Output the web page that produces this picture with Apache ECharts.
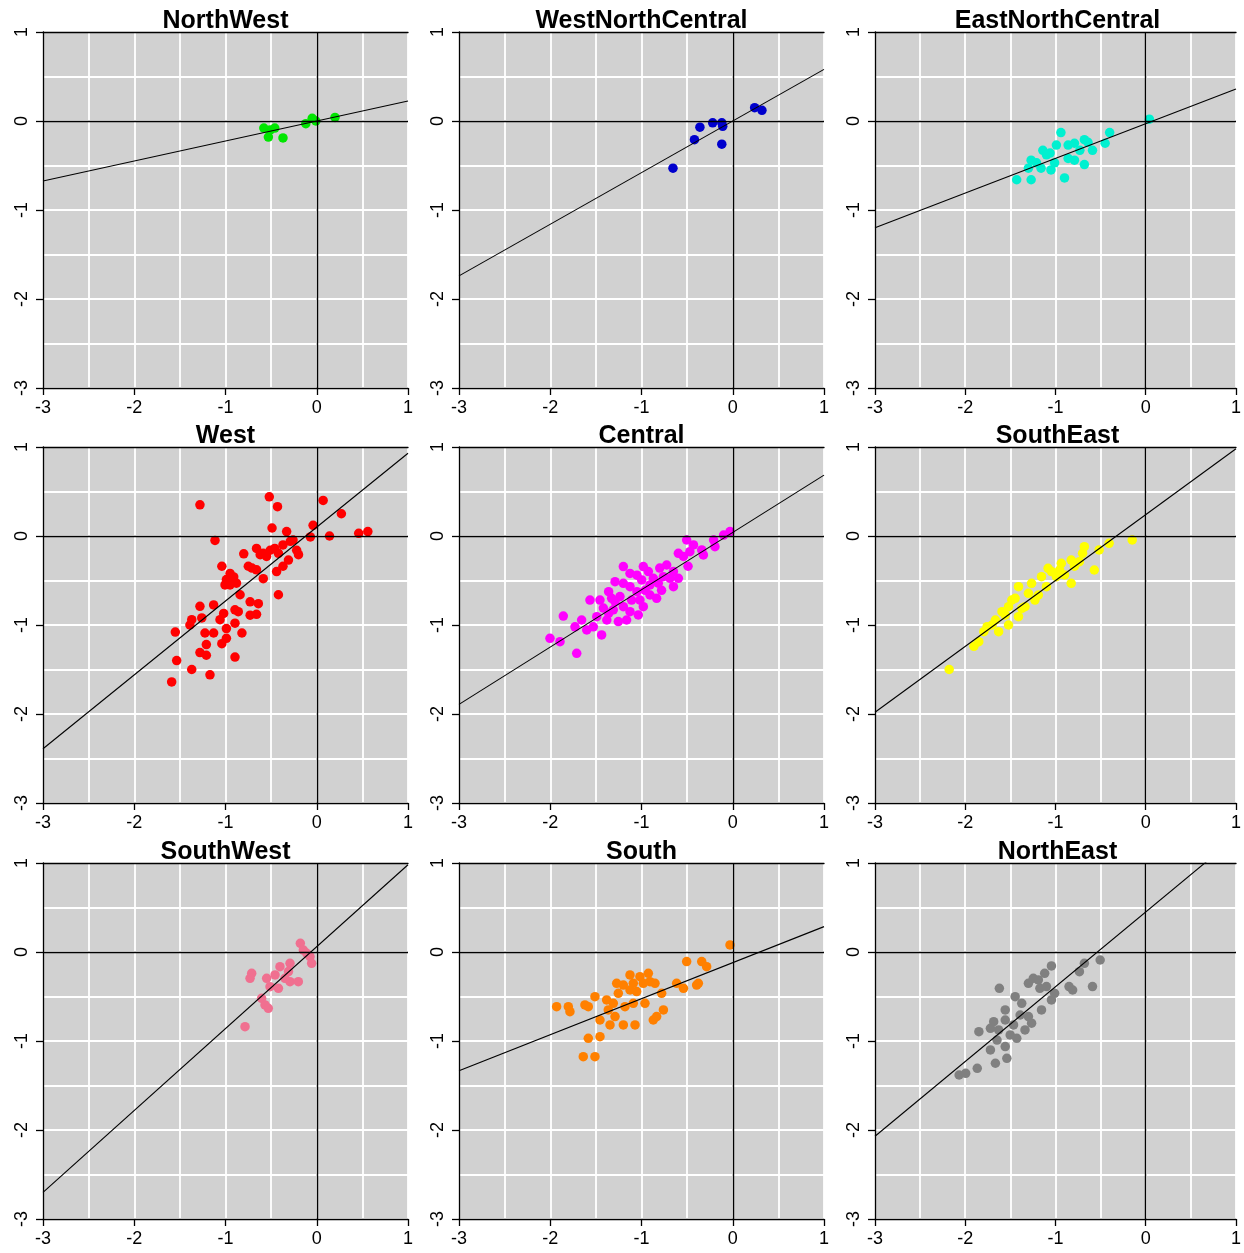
<!DOCTYPE html>
<html>
<head>
<meta charset="utf-8">
<script src="https://cdn.jsdelivr.net/npm/echarts@6/dist/echarts.min.js"></script>
<style>
html,body{margin:0;padding:0;background:#fff;}
#chart{width:1244px;height:1253px;}
</style>
</head>
<body>
<div id="chart"></div>
<script>
// ---------- DATA ----------
const regions = ['NorthWest','WestNorthCentral','EastNorthCentral','West','Central','SouthEast','SouthWest','South','NorthEast'];
const pointColors = ['#00e600','#0000cd','#00f0d0','#ff0000','#ff00ff','#ffff00','#f07090','#ff8000','#808080'];
const slopes = [0.225, 0.58, 0.39, 0.83, 0.644, 0.74, 0.92, 0.405, 0.84];
const intercepts = [0.0, 0.0, -0.03, 0.10, 0.04, 0.24, 0.06, -0.12, 0.45];
const axisTicks = [-3,-2,-1,0,1];

const northWest = [[-0.58,-0.08],[-0.51,-0.10],[-0.37,-0.19],[-0.53,-0.18],[-0.46,-0.08],[-0.12,-0.03],[-0.05,0.03],[-0.01,0.0],[0.20,0.04]];
const westNorthCentral = [[-0.655,-0.53],[-0.42,-0.21],[-0.36,-0.07],[-0.22,-0.02],[-0.12,-0.02],[-0.11,-0.06],[-0.12,-0.26],[0.24,0.15],[0.32,0.12]];
const eastNorthCentral = [[-1.43,-0.66],[-1.27,-0.66],[-1.27,-0.44],[-1.21,-0.47],[-1.16,-0.53],[-1.10,-0.38],[-1.06,-0.36],[-1.05,-0.55],[-1.01,-0.47],[-0.99,-0.27],[-0.94,-0.13],[-0.90,-0.64],[-0.86,-0.27],[-0.86,-0.42],[-0.79,-0.25],[-0.79,-0.44],[-0.68,-0.21],[-0.68,-0.49],[-0.64,-0.24],[-0.45,-0.25],[-0.40,-0.13],[0.04,0.02],[-1.30,-0.53],[-1.14,-0.33],[-0.59,-0.33],[-0.73,-0.33]];
const west = [[-1.28,0.35],[-0.52,0.44],[-0.43,0.33],[0.07,0.40],[0.27,0.25],[-0.04,0.12],[-0.07,-0.01],[0.14,0.0],[0.46,0.03],[0.56,0.05],[-0.49,0.09],[-0.33,0.05],[-1.115,-0.05],[-0.80,-0.20],[-0.66,-0.14],[-0.586,-0.195],[-0.51,-0.16],[-0.42,-0.195],[-0.37,-0.10],[-0.26,-0.045],[-0.22,-0.16],[-0.20,-0.21],[-0.31,-0.27],[-0.37,-0.34],[-0.44,-0.40],[-0.586,-0.48],[-0.66,-0.38],[-0.75,-0.34],[-1.04,-0.34],[-0.99,-0.49],[-0.95,-0.55],[-0.91,-0.46],[-1.005,-0.55],[-0.84,-0.66],[-0.42,-0.66],[-1.28,-0.79],[-1.13,-0.775],[-1.02,-0.87],[-0.896,-0.83],[-0.86,-0.85],[-0.73,-0.74],[-0.64,-0.76],[-0.73,-0.89],[-0.66,-0.88],[-1.37,-0.94],[-1.26,-0.92],[-1.39,-1.00],[-1.06,-0.94],[-0.99,-1.04],[-0.896,-0.98],[-1.55,-1.08],[-1.225,-1.09],[-1.13,-1.09],[-0.82,-1.09],[-1.21,-1.22],[-1.04,-1.21],[-0.99,-1.15],[-1.28,-1.31],[-1.21,-1.34],[-0.896,-1.36],[-1.535,-1.40],[-1.37,-1.50],[-1.17,-1.56],[-1.59,-1.64],[-0.62,-0.21],[-0.55,-0.23],[-0.46,-0.14],[-0.29,-0.06],[-0.71,-0.36],[-0.95,-0.42],[-0.88,-0.53]];
const central = [[-0.03,0.05],[-0.10,0.01],[-0.21,-0.045],[-0.195,-0.12],[-0.34,-0.157],[-0.505,-0.045],[-0.43,-0.10],[-0.47,-0.176],[-0.596,-0.195],[-0.54,-0.23],[-0.49,-0.34],[-0.65,-0.40],[-0.80,-0.36],[-0.724,-0.326],[-0.688,-0.475],[-0.65,-0.57],[-0.816,-0.53],[-0.78,-0.61],[-0.98,-0.344],[-0.925,-0.40],[-1.05,-0.44],[-1.126,-0.42],[-0.998,-0.494],[-0.907,-0.55],[-0.96,-0.61],[-1.199,-0.344],[-1.29,-0.513],[-1.199,-0.532],[-1.126,-0.57],[-1.05,-0.625],[-1.017,-0.72],[-0.907,-0.663],[-0.834,-0.70],[-1.108,-0.72],[-1.236,-0.68],[-1.36,-0.625],[-1.327,-0.70],[-1.455,-0.72],[-1.565,-0.72],[-1.418,-0.81],[-1.309,-0.83],[-1.199,-0.794],[-1.126,-0.85],[-1.49,-0.906],[-1.38,-0.944],[-1.528,-1.02],[-1.60,-1.056],[-1.437,-1.112],[-1.656,-0.944],[-1.729,-1.02],[-1.857,-0.90],[-1.893,-1.187],[-2.003,-1.15],[-1.71,-1.318],[-1.254,-0.962],[-1.163,-0.944],[-1.29,-0.738],[-0.98,-0.794],[-1.035,-0.887],[-1.36,-0.869],[-0.87,-0.475],[-0.76,-0.457],[-0.596,-0.475],[-0.322,-0.213]];
const southEast = [[-0.15,-0.045],[-0.406,-0.082],[-0.516,-0.157],[-0.68,-0.12],[-0.70,-0.195],[-0.57,-0.382],[-0.826,-0.27],[-0.79,-0.34],[-0.936,-0.307],[-1.082,-0.363],[-0.99,-0.457],[-0.826,-0.532],[-1.155,-0.457],[-1.10,-0.569],[-1.265,-0.532],[-1.19,-0.663],[-1.30,-0.644],[-1.41,-0.569],[-1.447,-0.70],[-1.338,-0.794],[-1.52,-0.794],[-1.557,-0.888],[-1.41,-0.906],[-1.666,-0.944],[-1.758,-1.019],[-1.63,-1.075],[-1.85,-1.187],[-1.904,-1.24],[-2.178,-1.50],[-1.484,-0.72],[-1.374,-0.813],[-1.228,-0.72],[-1.045,-0.40],[-0.954,-0.382],[-0.90,-0.438],[-1.593,-0.85],[-1.703,-1.0],[-1.52,-1.0],[-1.794,-1.075],[-0.735,-0.288]];
const southWest = [[-0.18,0.097],[-0.147,0.022],[-0.074,-0.052],[-0.056,-0.127],[-0.11,-0.015],[-0.293,-0.127],[-0.31,-0.22],[-0.403,-0.165],[-0.457,-0.258],[-0.549,-0.296],[-0.512,-0.39],[-0.42,-0.408],[-0.293,-0.333],[-0.202,-0.333],[-0.713,-0.24],[-0.731,-0.296],[-0.604,-0.52],[-0.567,-0.595],[-0.531,-0.633],[-0.786,-0.839],[-0.348,-0.296]];
const south = [[-0.03,0.079],[-0.505,-0.108],[-0.34,-0.108],[-0.286,-0.165],[-0.615,-0.352],[-0.54,-0.408],[-0.396,-0.371],[-0.779,-0.464],[-0.76,-0.651],[-0.871,-0.764],[-1.017,-0.277],[-0.98,-0.352],[-0.907,-0.333],[-0.852,-0.352],[-1.126,-0.258],[-1.126,-0.427],[-1.199,-0.371],[-1.272,-0.352],[-1.254,-0.464],[-1.053,-0.445],[-0.962,-0.577],[-1.09,-0.577],[-1.181,-0.614],[-1.309,-0.577],[-1.364,-0.651],[-1.382,-0.539],[-1.51,-0.502],[-1.583,-0.614],[-1.62,-0.595],[-1.802,-0.614],[-1.93,-0.614],[-1.784,-0.67],[-1.29,-0.726],[-1.345,-0.82],[-1.199,-0.82],[-1.071,-0.82],[-1.583,-0.97],[-1.455,-0.951],[-1.638,-1.176],[-1.51,-1.176],[-1.455,-0.764],[-0.834,-0.726],[-0.377,-0.352],[-1.09,-0.352],[-0.925,-0.24]];
const northEast = [[-0.505,-0.09],[-0.68,-0.127],[-0.735,-0.221],[-0.59,-0.389],[-0.85,-0.389],[-0.81,-0.427],[-1.045,-0.157],[-1.12,-0.24],[-1.19,-0.314],[-1.30,-0.352],[-1.10,-0.389],[-1.01,-0.464],[-1.045,-0.539],[-1.155,-0.651],[-1.622,-0.408],[-1.447,-0.502],[-1.374,-0.577],[-1.30,-0.726],[-1.265,-0.80],[-1.338,-0.876],[-1.429,-0.97],[-1.557,-0.651],[-1.557,-0.764],[-1.685,-0.783],[-1.721,-0.857],[-1.849,-0.895],[-1.63,-0.876],[-1.502,-0.932],[-1.557,-1.063],[-1.539,-1.195],[-1.666,-1.25],[-1.721,-1.10],[-1.867,-1.307],[-1.995,-1.363],[-2.068,-1.382],[-1.246,-0.296],[-1.173,-0.408],[-1.392,-0.708],[-1.465,-0.82],[-1.648,-0.989]];

const panelData = [northWest, westNorthCentral, eastNorthCentral, west, central, southEast, southWest, south, northEast];

// ---------- LAYOUT ----------
const colLefts = [43, 459, 875];
const rowTops = [32, 447, 863];
const gw = 365, gh = 356;
const axMin = -3, axMax = 1;
const font = 'Liberation Sans, Arial, sans-serif';

const grids = [], xAxes = [], yAxes = [], series = [], titles = [];
regions.forEach((name, i) => {
  const r = Math.floor(i / 3), c = i % 3;
  grids.push({left: colLefts[c], top: rowTops[r], width: gw, height: gh,
    show: true, backgroundColor: '#d1d1d1', borderWidth: 0});
  titles.push({text: name, left: colLefts[c] + gw / 2 - 5, top: rowTops[r] - 28, textAlign: 'center',
    textStyle: {fontFamily: font, fontSize: 25, fontWeight: 'bold', color: '#000'}});
  const common = {min: axMin, max: axMax, interval: 1, gridIndex: i};
  xAxes.push(Object.assign({}, common, {
    type: 'value', position: 'bottom',
    axisLine: {show: true, onZero: false, lineStyle: {color: '#000', width: 1.3}},
    axisTick: {show: true, length: 7, lineStyle: {color: '#000', width: 1.3}},
    axisLabel: {show: true, margin: 11, fontFamily: font, fontSize: 18, color: '#000',
      formatter: v => axisTicks.includes(v) ? String(v) : ''},
    splitLine: {show: true, lineStyle: {color: '#ffffff', width: 1.8}},
    minorTick: {show: false, splitNumber: 2},
    minorSplitLine: {show: true, lineStyle: {color: '#ffffff', width: 1.8}}
  }));
  xAxes.push(Object.assign({}, common, {
    type: 'value', position: 'top',
    axisLine: {show: true, onZero: false, lineStyle: {color: '#000', width: 1.3}},
    axisTick: {show: false}, axisLabel: {show: false}, splitLine: {show: false}
  }));
  yAxes.push(Object.assign({}, common, {
    type: 'value', position: 'left',
    axisLine: {show: true, onZero: false, lineStyle: {color: '#000', width: 1.3}},
    axisTick: {show: true, length: 7, lineStyle: {color: '#000', width: 1.3}},
    axisLabel: {show: true, margin: 12, rotate: 90, fontFamily: font, fontSize: 18, color: '#000',
      formatter: v => axisTicks.includes(v) ? String(v) : ''},
    splitLine: {show: true, lineStyle: {color: '#ffffff', width: 1.8}},
    minorTick: {show: false, splitNumber: 2},
    minorSplitLine: {show: true, lineStyle: {color: '#ffffff', width: 1.8}}
  }));
  const xIdx = i * 2;
  // zero reference lines
  series.push({
    type: 'line', xAxisIndex: xIdx, yAxisIndex: i, data: [], silent: true,
    markLine: {silent: true, symbol: 'none', label: {show: false},
      lineStyle: {color: '#000', width: 1.4, type: 'solid'},
      data: [{xAxis: 0}, {yAxis: 0}]}
  });
  // points
  series.push({
    type: 'scatter', xAxisIndex: xIdx, yAxisIndex: i, data: panelData[i],
    symbol: 'circle', symbolSize: 9.5, itemStyle: {color: pointColors[i], opacity: 1}, silent: true
  });
  // regression line
  series.push({
    type: 'line', xAxisIndex: xIdx, yAxisIndex: i, clip: true, silent: true,
    symbol: 'none', lineStyle: {color: '#000', width: 1.1},
    data: [[axMin, intercepts[i] + slopes[i] * axMin], [axMax, intercepts[i] + slopes[i] * axMax]]
  });
});

const chart = echarts.init(document.getElementById('chart'), null, {renderer: 'canvas'});
chart.setOption({
  animation: false,
  backgroundColor: '#ffffff',
  title: titles,
  grid: grids,
  xAxis: xAxes,
  yAxis: yAxes,
  series: series
});
</script>
</body>
</html>
